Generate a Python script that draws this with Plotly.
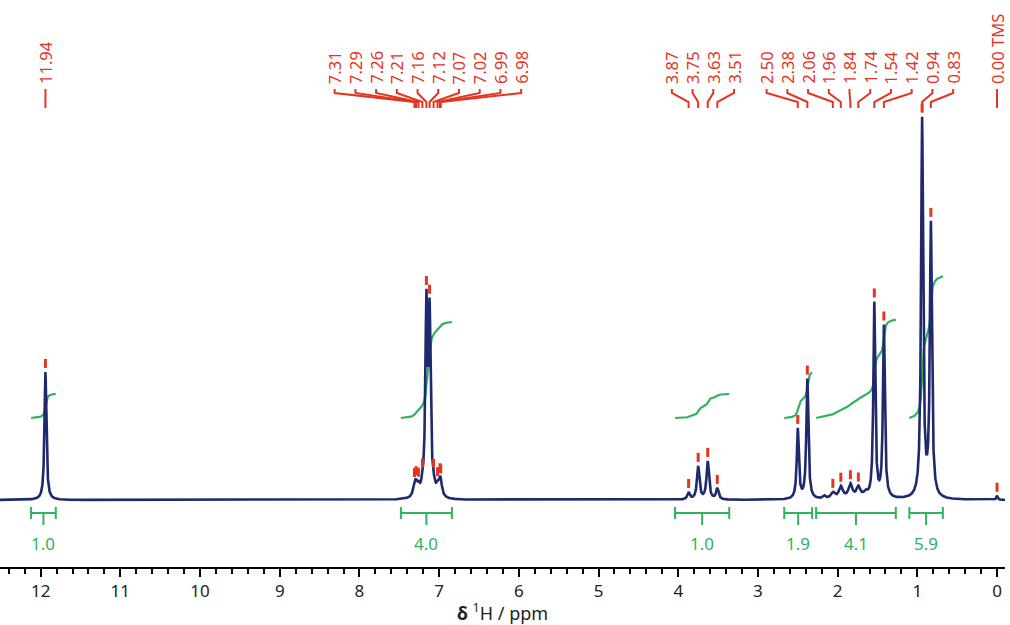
import numpy as np
import plotly.graph_objects as go

# labelled peaks: chemical shift (ppm), intensity, half width (ppm)
peak_ppm = [11.94, 7.31, 7.29, 7.26, 7.21, 7.16, 7.12, 7.07, 7.02, 6.99, 6.98,
            3.87, 3.75, 3.63, 3.51, 2.50, 2.38, 2.06, 1.96, 1.84, 1.74,
            1.54, 1.42, 0.94, 0.83, 0.00]
peak_height = [128, 10, 9, 8, 6, 187, 177, 6, 8, 9, 10,
               7, 33, 38, 11, 70, 120, 6, 12, 14, 11,
               195, 172, 378, 272, 4]
peak_width = [0.014, 0.02, 0.02, 0.02, 0.02, 0.015, 0.015, 0.02, 0.02, 0.02, 0.02,
              0.018, 0.018, 0.018, 0.018, 0.015, 0.015, 0.03, 0.03, 0.03, 0.03,
              0.014, 0.014, 0.015, 0.015, 0.01]
peak_label = ["11.94", "7.31", "7.29", "7.26", "7.21", "7.16", "7.12", "7.07", "7.02",
              "6.99", "6.98", "3.87", "3.75", "3.63", "3.51", "2.50", "2.38", "2.06",
              "1.96", "1.84", "1.74", "1.54", "1.42", "0.94", "0.83", "0.00 TMS"]

# small unlabelled lines
extra_ppm = [2.17, 1.65]
extra_height = [3, 5]
extra_width = [0.02, 0.03]

# integration regions
int_from = [12.12, 7.48, 4.04, 2.67, 2.27, 1.10]
int_to = [11.81, 6.84, 3.36, 2.32, 1.27, 0.68]
int_value = [1.0, 4.0, 1.0, 1.9, 4.1, 5.9]

NAVY = "#1f2a6e"
RED = "#e5341f"
GREEN = "#2fb35c"
FONT = "Noto Sans"


def spectrum(x):
    y = np.zeros_like(x, dtype=float)
    for p, h, w in zip(peak_ppm + extra_ppm, peak_height + extra_height, peak_width + extra_width):
        y += h / (1 + ((x - p) / w) ** 2)
    return y


ppm = np.linspace(12.51, -0.10, 12611)
intensity = spectrum(ppm)

fig = go.Figure()

# integral curves
int_base = 82
int_scale = 24
for a, b, v in zip(int_from, int_to, int_value):
    xs = np.linspace(a, b, 600)
    ys = spectrum(xs)
    cum = np.concatenate([[0], np.cumsum((ys[1:] + ys[:-1]) / 2)])
    cum = cum / cum[-1]
    fig.add_trace(go.Scatter(x=xs, y=int_base + v * int_scale * cum, mode="lines",
                             line=dict(color=GREEN, width=2.2), hoverinfo="skip"))

# spectrum
fig.add_trace(go.Scatter(x=ppm, y=intensity, mode="lines",
                         line=dict(color=NAVY, width=2.6), hoverinfo="skip"))

# red peak markers
mx, my = [], []
for p in peak_ppm:
    top = float(spectrum(np.array([p]))[0])
    mx += [p, p, None]
    my += [top + 4, top + 13, None]
fig.add_trace(go.Scatter(x=mx, y=my, mode="lines", line=dict(color=RED, width=3),
                         hoverinfo="skip"))


# spread the peak labels so they don't overlap
def spread(pos, gap):
    groups = [[i] for i in range(len(pos))]

    def place(g):
        c = np.mean([pos[i] for i in g])
        n = len(g)
        return [c + gap * ((n - 1) / 2 - k) for k in range(n)]

    merged = True
    while merged:
        merged = False
        for j in range(len(groups) - 1):
            if place(groups[j])[-1] - place(groups[j + 1])[0] < gap:
                groups[j] = groups[j] + groups[j + 1]
                del groups[j + 1]
                merged = True
                break
    out = []
    for g in groups:
        out += place(g)
    return out


label_x = spread(peak_ppm, 0.26)

cx, cy = [], []
for lx, p in zip(label_x, peak_ppm):
    cx += [lx, lx, p, p, None]
    cy += [411, 407, 398, 392, None]
fig.add_trace(go.Scatter(x=cx, y=cy, mode="lines", line=dict(color=RED, width=2),
                         hoverinfo="skip"))

for lx, t in zip(label_x, peak_label):
    fig.add_annotation(x=lx, y=414, text=t, textangle=-90, showarrow=False,
                       xanchor="center", yanchor="bottom",
                       font=dict(family=FONT, size=16.5, color=RED))

# integration brackets
bx, by = [], []
for a, b, v in zip(int_from, int_to, int_value):
    m = (a + b) / 2
    bx += [a, b, None, a, a, None, b, b, None, m, m, None]
    by += [-13, -13, None, -7, -19, None, -7, -19, None, -13, -25, None]
    fig.add_annotation(x=m, y=-43, text=f"{v:.1f}", showarrow=False,
                       font=dict(family=FONT, size=17, color=GREEN))
fig.add_trace(go.Scatter(x=bx, y=by, mode="lines", line=dict(color=GREEN, width=2),
                         hoverinfo="skip"))

fig.update_xaxes(range=[12.51, -0.10], showline=True, linecolor="black", linewidth=2,
                 ticks="outside", ticklen=8, tickwidth=2, tickcolor="black",
                 dtick=1, tick0=0, showgrid=False, zeroline=False,
                 minor=dict(dtick=0.2, ticks="outside", ticklen=5, tickwidth=2,
                            tickcolor="black", showgrid=False),
                 tickfont=dict(family=FONT, size=17, color="#222222"),
                 title=dict(text="<b>δ</b> <sup>1</sup>H / ppm", standoff=2,
                            font=dict(family=FONT, size=18, color="#222222")))
fig.update_yaxes(range=[-67, 500], visible=False)

fig.update_layout(width=1010, height=625, showlegend=False,
                  plot_bgcolor="white", paper_bgcolor="white",
                  margin=dict(l=0, r=5, t=0, b=58))

fig.write_html("out.html", config={"displayModeBar": False},
               post_script="document.body.style.margin='0';")
